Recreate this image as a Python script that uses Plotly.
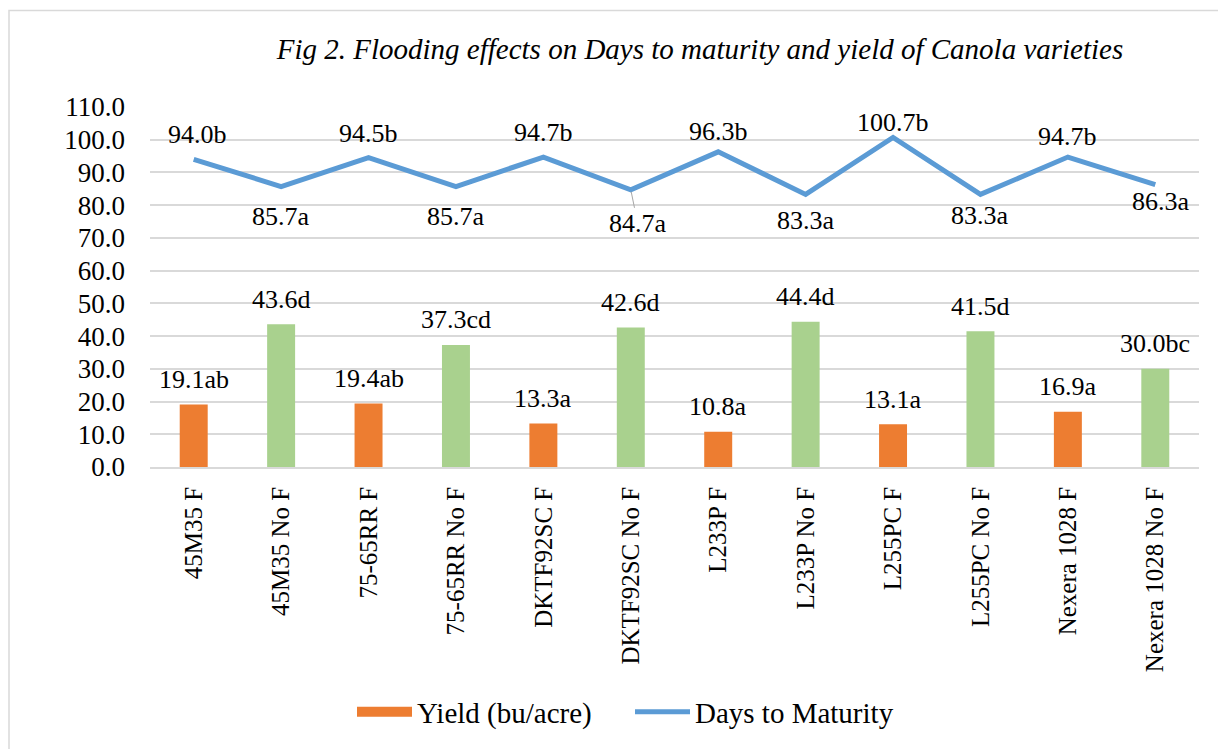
import plotly.graph_objects as go

categories = ["45M35 F", "45M35 No F", "75-65RR F", "75-65RR No F", "DKTF92SC F",
              "DKTF92SC No F", "L233P F", "L233P No F", "L255PC F", "L255PC No F",
              "Nexera 1028 F", "Nexera 1028 No F"]
yield_vals = [19.1, 43.6, 19.4, 37.3, 13.3, 42.6, 10.8, 44.4, 13.1, 41.5, 16.9, 30.0]
yield_letters = ["ab", "d", "ab", "cd", "a", "d", "a", "d", "a", "d", "a", "bc"]
days_vals = [94.0, 85.7, 94.5, 85.7, 94.7, 84.7, 96.3, 83.3, 100.7, 83.3, 94.7, 86.3]
days_letters = ["b", "a", "b", "a", "b", "a", "b", "a", "b", "a", "b", "a"]

# label placement (pixels) for the line data labels
days_label_dy = [25, -30, 24, -30, 25, -34, 20, -26, 15, -21, 21, -17]
days_label_dx = [4, 0, 0, 0, 0, 7, 0, 0, 0, 0, 0, 6]

ORANGE = "#ED7D31"
GREEN = "#A9D18E"
BLUE = "#5B9BD5"
FONT = "Liberation Serif, Times New Roman, serif"

# page body has an 8px margin: the figure is placed at (8, 8)
OFF = 8
W, H = 1226 - OFF, 749 - OFF
PL, PT, PR, PB = 150, 107, 1199, 473   # target plot area in screen pixels
PW, PH = PR - PL, PB - PT

bar_colors = [GREEN if c.endswith("No F") else ORANGE for c in categories]

fig = go.Figure()
fig.add_trace(go.Bar(
    x=categories, y=yield_vals, name="Yield (bu/acre)",
    marker=dict(color=bar_colors, line=dict(width=0)),
    showlegend=False, legendgroup="yield",
))
# legend entry for the bars (wide orange key like the original)
fig.add_trace(go.Scatter(
    x=[None], y=[None], name="Yield (bu/acre)", mode="lines",
    line=dict(color=ORANGE, width=15), legendgroup="yield", hoverinfo="skip",
))
fig.add_trace(go.Scatter(
    x=categories, y=days_vals, name="Days to Maturity", mode="lines",
    line=dict(color=BLUE, width=5),
))

annotations = []
for c, v, l in zip(categories, yield_vals, yield_letters):
    annotations.append(dict(x=c, y=v, text=f"{v:.1f}{l}", showarrow=False,
                            yshift=25, yanchor="middle", xanchor="center",
                            font=dict(family=FONT, size=26, color="#000000")))
for i, (c, v, l) in enumerate(zip(categories, days_vals, days_letters)):
    if i == 5:
        annotations.append(dict(x=c, y=v, text=f"{v:.1f}{l}", showarrow=True,
                                arrowhead=0, arrowwidth=1, arrowcolor="#A6A6A6",
                                ax=days_label_dx[i], ay=-days_label_dy[i], standoff=2,
                                font=dict(family=FONT, size=26, color="#000000")))
    else:
        annotations.append(dict(x=c, y=v, text=f"{v:.1f}{l}", showarrow=False,
                                yshift=days_label_dy[i], xshift=days_label_dx[i],
                                yanchor="middle", xanchor="center",
                                font=dict(family=FONT, size=26, color="#000000")))

fig.update_layout(
    width=W, height=H,
    margin=dict(l=PL - OFF, r=W + OFF - PR, t=PT - OFF, b=H + OFF - PB),
    paper_bgcolor="white", plot_bgcolor="white",
    bargap=0.68,
    showlegend=True,
    title=dict(text="<i>Fig 2. Flooding effects on Days to maturity and yield of Canola varieties</i>",
               x=(700 - OFF) / W, xanchor="center", xref="container",
               y=1 - (49 - OFF) / H, yanchor="middle", yref="container",
               font=dict(family=FONT, size=29, color="#000000")),
    legend=dict(orientation="h", x=(352 - PL) / PW, xanchor="left",
                y=(PB - 722) / PH, yanchor="middle",
                font=dict(family=FONT, size=29, color="#000000"),
                itemwidth=55, entrywidth=208, entrywidthmode="pixels",
                bgcolor="rgba(0,0,0,0)"),
    annotations=annotations,
    shapes=[dict(type="rect", xref="paper", yref="paper",
                 x0=(9 - PL) / PW, x1=1.06, y0=-0.8, y1=(PB - 9) / PH,
                 line=dict(color="#D9D9D9", width=1.5), layer="below")],
)
fig.update_xaxes(
    type="category", tickangle=-90, showgrid=False, showline=True,
    linecolor="#D9D9D9", linewidth=1.5, ticks="",
    tickfont=dict(family=FONT, size=25, color="#000000"), ticklabelstandoff=8,
)
fig.update_yaxes(
    range=[0, 110], dtick=10, tick0=0, tickformat=".1f",
    showgrid=True, gridcolor="#D9D9D9", gridwidth=1.5, zeroline=False,
    showline=False, ticks="",
    tickfont=dict(family=FONT, size=27, color="#000000"), ticklabelstandoff=24,
)

fig.write_html("out.html")
